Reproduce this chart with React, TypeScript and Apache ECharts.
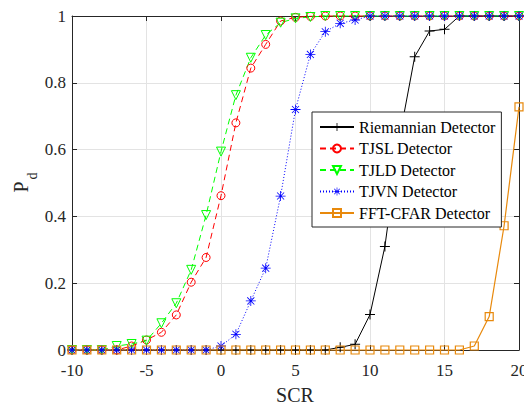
import React, { useEffect, useRef } from "react";
import * as echarts from "echarts";

const scr = [-10, -9, -8, -7, -6, -5, -4, -3, -2, -1, 0, 1, 2, 3, 4, 5, 6, 7, 8, 9, 10, 11, 12, 13, 14, 15, 16, 17, 18, 19, 20];

const riemannian = [0, 0, 0, 0, 0, 0, 0, 0, 0, 0, 0, 0, 0, 0, 0, 0, 0, 0, 0.008, 0.017, 0.106, 0.31, 0.64, 0.878, 0.955, 0.96, 1, 1, 1, 1, 1];
const tjsl = [0, 0, 0, 0, 0.012, 0.03, 0.053, 0.105, 0.203, 0.277, 0.462, 0.68, 0.844, 0.915, 0.985, 0.996, 0.999, 1, 1, 1, 1, 1, 1, 1, 1, 1, 1, 1, 1, 1, 1];
const tjld = [0, 0, 0, 0.012, 0.018, 0.028, 0.08, 0.14, 0.24, 0.404, 0.594, 0.763, 0.875, 0.943, 0.98, 0.993, 0.997, 1, 1, 1, 1, 1, 1, 1, 1, 1, 1, 1, 1, 1, 1];
const tjvn = [0, 0, 0, 0, 0, 0, 0, 0, 0, 0, 0.012, 0.047, 0.147, 0.245, 0.461, 0.72, 0.885, 0.953, 0.978, 0.988, 1, 1, 1, 1, 1, 1, 1, 1, 1, 1, 1];
const fftcfar = [0, 0, 0, 0, 0, 0, 0, 0, 0, 0, 0, 0, 0, 0, 0, 0, 0, 0, 0, 0, 0, 0, 0, 0, 0, 0, 0, 0.012, 0.1, 0.372, 0.728];

const seriesNames = ["Riemannian Detector", "TJSL Detector", "TJLD Detector", "TJVN Detector", "FFT-CFAR Detector"];

const PLUS = "path://M4.5,0 L5.5,0 L5.5,4.5 L10,4.5 L10,5.5 L5.5,5.5 L5.5,10 L4.5,10 L4.5,5.5 L0,5.5 L0,4.5 L4.5,4.5 Z";
const STAR =
  "path://M0,9.2 L20,9.2 L20,10.8 L0,10.8 Z M9.2,0 L10.8,0 L10.8,20 L9.2,20 Z " +
  "M3.5,2.36 L17.64,16.5 L16.5,17.64 L2.36,3.5 Z M2.36,16.5 L16.5,2.36 L17.64,3.5 L3.5,17.64 Z";

const FONT = "Liberation Serif";
const AX = "#262626";

function mk(values: number[]) {
  return scr.map((x, i) => [x, values[i]]);
}

export default function App() {
  const ref = useRef<HTMLDivElement>(null);
  useEffect(() => {
    if (!ref.current) return;
    const chart = echarts.init(ref.current, undefined, { renderer: "svg" });
    const axisCommon = {
      type: "value" as const,
      axisLine: { show: true, onZero: false, lineStyle: { color: AX, width: 1 } },
      axisTick: { show: true, inside: true, length: 5, lineStyle: { color: AX } },
    };
    const labelStyle = { color: AX, fontFamily: FONT, fontSize: 17 };
    chart.setOption({
      animation: false,
      backgroundColor: "#ffffff",
      textStyle: { fontFamily: FONT },
      grid: { left: 72, top: 16, right: 5, bottom: 57, containLabel: false, outerBoundsMode: "none" },
      xAxis: [
        {
          ...axisCommon,
          min: -10,
          max: 20,
          interval: 5,
          position: "bottom",
          axisLabel: { ...labelStyle, margin: 12 },
          splitLine: { show: true, lineStyle: { color: "#e3e3e3", width: 1 } },
        },
        {
          ...axisCommon,
          min: -10,
          max: 20,
          interval: 5,
          position: "top",
          axisLabel: { show: false },
          splitLine: { show: false },
        },
      ],
      yAxis: [
        {
          ...axisCommon,
          min: 0,
          max: 1,
          interval: 0.2,
          position: "left",
          axisLabel: { ...labelStyle, margin: 6 },
          splitLine: { show: true, lineStyle: { color: "#e3e3e3", width: 1 } },
        },
        {
          ...axisCommon,
          min: 0,
          max: 1,
          interval: 0.2,
          position: "right",
          axisLabel: { show: false },
          splitLine: { show: false },
        },
      ],
      legend: {
        orient: "vertical",
        left: 312,
        top: 112,
        width: 185,
        padding: [7, 6, 6, 7],
        itemWidth: 34,
        itemHeight: 10,
        itemGap: 5.5,
        backgroundColor: "#ffffff",
        borderColor: AX,
        borderWidth: 1,
        borderRadius: 0,
        textStyle: { fontFamily: FONT, fontSize: 16, color: "#000000" },
        data: seriesNames,
      },
      graphic: [
        {
          type: "text",
          x: 295,
          y: 395,
          style: { text: "SCR", font: `20px ${FONT}`, fill: AX, align: "center", verticalAlign: "middle" },
        },
        {
          type: "text",
          x: 21,
          y: 187,
          rotation: Math.PI / 2,
          style: { text: "P", font: `20px ${FONT}`, fill: AX, align: "center", verticalAlign: "middle" },
        },
        {
          type: "text",
          x: 32,
          y: 176,
          rotation: Math.PI / 2,
          style: { text: "d", font: `14px ${FONT}`, fill: AX, align: "center", verticalAlign: "middle" },
        },
      ],
      series: [
        {
          name: seriesNames[0],
          type: "line",
          data: mk(riemannian),
          clip: false,
          symbol: PLUS,
          symbolSize: 10,
          lineStyle: { color: "#000000", width: 1 },
          itemStyle: { color: "#000000" },
        },
        {
          name: seriesNames[1],
          type: "line",
          data: mk(tjsl),
          clip: false,
          symbol: "circle",
          symbolSize: 8,
          lineStyle: { color: "#ff0000", width: 1, type: [6, 4] },
          itemStyle: { color: "rgba(255,255,255,0)", borderColor: "#ff0000", borderWidth: 1 },
        },
        {
          name: seriesNames[2],
          type: "line",
          data: mk(tjld),
          clip: false,
          symbol: "triangle",
          symbolRotate: 180,
          symbolSize: 9,
          lineStyle: { color: "#00ff00", width: 1, type: [6, 4] },
          itemStyle: { color: "rgba(255,255,255,0)", borderColor: "#00ff00", borderWidth: 1 },
        },
        {
          name: seriesNames[3],
          type: "line",
          data: mk(tjvn),
          clip: false,
          symbol: STAR,
          symbolSize: 10,
          lineStyle: { color: "#0000ff", width: 1, type: [1, 2] },
          itemStyle: { color: "#0000ff" },
        },
        {
          name: seriesNames[4],
          type: "line",
          data: mk(fftcfar),
          clip: false,
          symbol: "rect",
          symbolSize: 8,
          lineStyle: { color: "#e8890c", width: 1.2 },
          itemStyle: { color: "rgba(255,255,255,0)", borderColor: "#e8890c", borderWidth: 1.2 },
        },
      ],
    });
    return () => chart.dispose();
  }, []);
  return <div ref={ref} style={{ position: "fixed", left: 0, top: 0, width: 524, height: 407 }} />;
}
